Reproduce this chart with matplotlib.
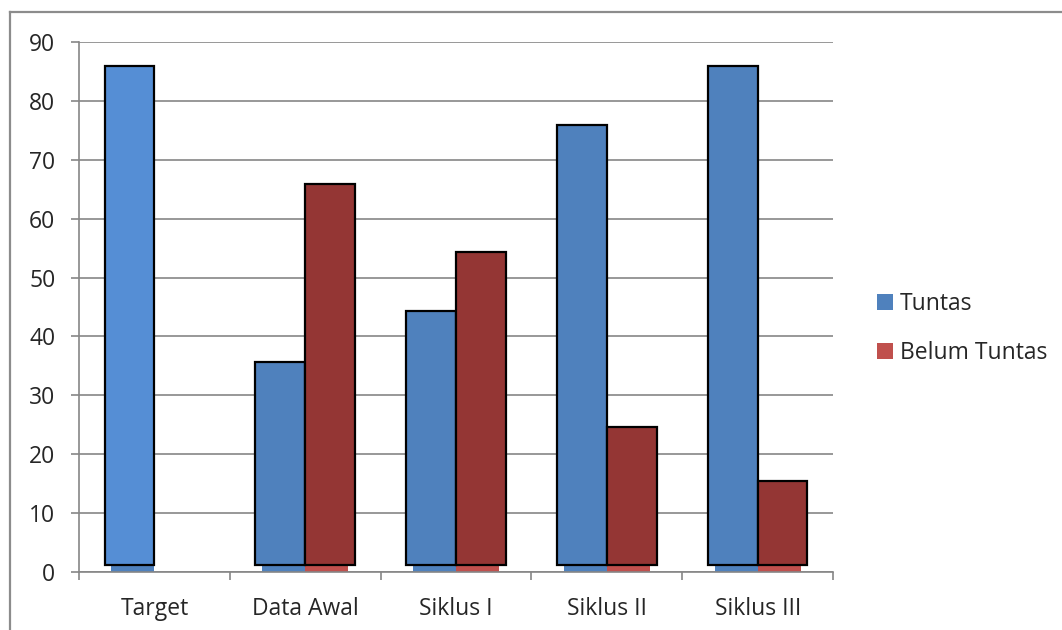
import numpy as np
import matplotlib.pyplot as plt
from matplotlib.lines import Line2D
from matplotlib.patches import Patch

plt.rcParams['font.family'] = ['Open Sans', 'DejaVu Sans']

categories = ['Target', 'Data Awal', 'Siklus I', 'Siklus II', 'Siklus III']
tuntas = [86, 35.7, 44.4, 75.9, 85.9]
belum_tuntas = [0, 65.8, 54.3, 24.7, 15.5]
series_names = ['Tuntas', 'Belum Tuntas']
yticks = [0, 10, 20, 30, 40, 50, 60, 70, 80, 90]

blue = '#4F81BD'
red = '#C0504D'
grid_gray = '#868686'
fs = 16.5

fig = plt.figure(figsize=(10.62, 6.3), dpi=100)
ax = fig.add_axes([0.0744, 0.0921, 0.71, 0.8413])

x = np.arange(len(categories))

# chart bars underneath (only their feet show below the boxed bars)
w0 = 0.285
ax.bar(x - w0, tuntas, width=w0, align='edge', color=blue, zorder=2)
ax.bar(x, belum_tuntas, width=w0, align='edge', color=red, zorder=2)

# boxed bars drawn over them, lifted slightly off the axis
w1 = 0.33
base = 1.2
blue_fill = ['#558ED5'] + ['#4F81BD'] * (len(categories) - 1)
ax.bar(x - w1, np.array(tuntas) - base, bottom=base, width=w1, align='edge',
       color=blue_fill, edgecolor='black', linewidth=1.6, zorder=3)
heights_b = np.array(belum_tuntas) - base
mask = np.array(belum_tuntas) > 0
ax.bar(x[mask], heights_b[mask], bottom=base, width=w1, align='edge',
       color='#943634', edgecolor='black', linewidth=1.6, zorder=3)

ax.set_xlim(-0.5, len(categories) - 0.5)
ax.set_ylim(0, 90)
ax.set_yticks(yticks)
ax.yaxis.grid(True, color=grid_gray, linewidth=1.2)
ax.set_axisbelow(True)

ax.set_xticks(x)
ax.set_xticklabels(categories)
ax.set_xticks(np.arange(len(categories) + 1) - 0.5, minor=True)
ax.tick_params(axis='x', which='major', length=0, pad=18, labelsize=fs, labelcolor='#262626')
ax.tick_params(axis='x', which='minor', length=6, width=1.2, color=grid_gray)
ax.tick_params(axis='y', length=6, width=1.2, color=grid_gray, pad=11,
               labelsize=fs, labelcolor='#262626')

for s in ['top', 'right']:
    ax.spines[s].set_visible(False)
for s in ['left', 'bottom']:
    ax.spines[s].set_color(grid_gray)
    ax.spines[s].set_linewidth(1.2)

handles = [Patch(facecolor=blue), Patch(facecolor=red)]
fig.legend(handles, series_names, loc='center left', bbox_to_anchor=(0.806, 0.478),
           frameon=False, fontsize=fs, handlelength=0.7, handleheight=0.7,
           handletextpad=0.3, labelspacing=1.1, labelcolor='#262626')

# outer chart frame
fig.add_artist(Line2D([10 / 1062, 1], [1 - 12 / 630, 1 - 12 / 630],
                      color='#8C8C8C', linewidth=1.6))
fig.add_artist(Line2D([10 / 1062, 10 / 1062], [0, 1 - 12 / 630],
                      color='#8C8C8C', linewidth=1.6))

fig.savefig('out.png', dpi=100)
